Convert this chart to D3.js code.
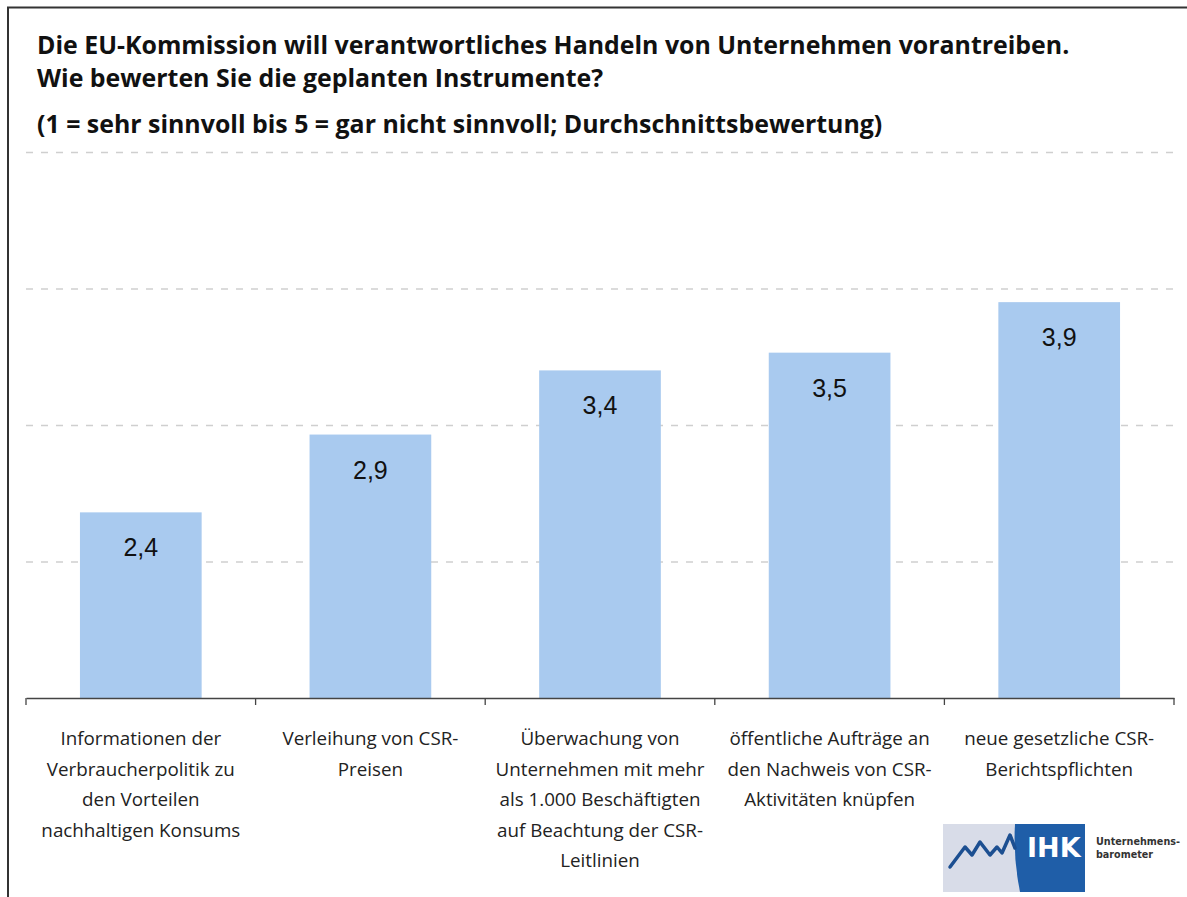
<!DOCTYPE html>
<html>
<head>
<meta charset="utf-8">
<script src="https://cdn.jsdelivr.net/npm/d3@7"></script>
<style>
  body { margin: 0; background: #fff; }
  svg { display: block; }
  .title { font-family: "Open Sans", sans-serif; font-weight: bold; font-size: 24.9px; fill: #111; }
  .cat { font-family: "Open Sans", sans-serif; font-size: 18.8px; fill: #222; }
  .val { font-family: "Liberation Sans", Arial, sans-serif; font-size: 25px; fill: #111; }
</style>
</head>
<body>
<div id="chart"></div>
<script>
const width = 1187
const height = 897

// Daten
const titleLines = [
  "Die EU-Kommission will verantwortliches Handeln von Unternehmen vorantreiben.",
  "Wie bewerten Sie die geplanten Instrumente?",
  "(1 = sehr sinnvoll bis 5 = gar nicht sinnvoll; Durchschnittsbewertung)"
]
const categories = [
  "Informationen der\nVerbraucherpolitik zu\nden Vorteilen\nnachhaltigen Konsums",
  "Verleihung von CSR-\nPreisen",
  "Überwachung von\nUnternehmen mit mehr\nals 1.000 Beschäftigten\nauf Beachtung der CSR-\nLeitlinien",
  "öffentliche Aufträge an\nden Nachweis von CSR-\nAktivitäten knüpfen",
  "neue gesetzliche CSR-\nBerichtspflichten"
]
const values = [2.36, 2.93, 3.40, 3.53, 3.90]
const yTicks = [1, 2, 3, 4, 5]

const svg = d3.select("div#chart")
  .append("svg")
  .attr("width", width)
  .attr("height", height)

// Rahmen (oben + links)
svg.append("path")
  .attr("d", `M8,${height} V7.5 H${width}`)
  .attr("fill", "none")
  .attr("stroke", "#333")
  .attr("stroke-width", 2)

// Titel
svg.append("g").selectAll("text").data(titleLines)
  .join("text")
  .attr("class", "title")
  .attr("x", 37)
  .attr("y", (d, i) => [54, 87, 133][i])
  .text(d => d)

// Skalen
const x = d3.scaleBand()
  .domain(categories)
  .range([26, 1174])
  .paddingInner(0.47)
  .paddingOuter(0.235)

const y = d3.scaleLinear()
  .domain([1, 5])
  .range([698, 152])

// Gitterlinien
const gridGroup = svg.append("g")
  .attr("transform", `translate(26, 0)`)
  .call(d3.axisLeft(y).tickValues(yTicks.slice(1)).tickSize(-(1174 - 26)).tickFormat(""))
gridGroup.select(".domain").remove()
gridGroup.selectAll(".tick line")
  .attr("stroke", "#cfcfcf")
  .attr("stroke-width", 1.3)
  .attr("stroke-dasharray", "7,8")

// Balken
svg.append("g").selectAll("rect").data(values)
  .join("rect")
  .attr("x", (d, i) => x(categories[i]))
  .attr("y", d => y(d))
  .attr("width", x.bandwidth())
  .attr("height", d => y(1) - y(d))
  .attr("fill", "#a9caef")

// Werte
svg.append("g").selectAll("text").data(values)
  .join("text")
  .attr("class", "val")
  .attr("x", (d, i) => x(categories[i]) + x.bandwidth() / 2)
  .attr("y", d => y(d) + 44)
  .attr("text-anchor", "middle")
  .text(d => d.toFixed(1).replace(".", ","))

// X-Achse
const xAxisGroup = svg.append("g")
  .attr("transform", `translate(0, ${y(1)})`)
  .call(d3.axisBottom(x).tickSize(0).tickFormat(""))
xAxisGroup.select(".domain").attr("stroke", "#444").attr("stroke-width", 1.5)
xAxisGroup.selectAll(".tick").remove()

const boundaries = d3.range(categories.length + 1).map(i => x.range()[0] + i * x.step())
xAxisGroup.selectAll("line.sep").data(boundaries)
  .join("line")
  .attr("class", "sep")
  .attr("x1", d => d).attr("x2", d => d)
  .attr("y1", 0).attr("y2", 7)
  .attr("stroke", "#444")
  .attr("stroke-width", 1.3)

// Kategorien
const catGroups = svg.append("g").selectAll("text").data(categories)
  .join("text")
  .attr("class", "cat")
  .attr("text-anchor", "middle")
  .attr("x", d => x(d) + x.bandwidth() / 2)
  .attr("y", 745)
catGroups.selectAll("tspan").data(d => d.split("\n"))
  .join("tspan")
  .attr("x", function () { return d3.select(this.parentNode).attr("x") })
  .attr("dy", (d, i) => i === 0 ? 0 : 30.5)
  .text(d => d)

// Logo
const logo = svg.append("g").attr("transform", "translate(943, 824)")
logo.append("rect").attr("width", 142).attr("height", 68).attr("fill", "#d8dce8")
logo.append("path")
  .attr("d", "M72,0 H142 V68 H77 Q70,34 72,0 Z")
  .attr("fill", "#1f5ea8")
logo.append("polyline")
  .attr("points", "7,43 22,23 29,31 37,18 47,31 54,23 59,29 67,11 72,24")
  .attr("fill", "none")
  .attr("stroke", "#1c4f91")
  .attr("stroke-width", 3.5)
  .attr("stroke-linejoin", "round")
  .attr("stroke-linecap", "round")
logo.append("text")
  .attr("x", 84).attr("y", 33)
  .attr("font-family", "'DejaVu Sans', sans-serif")
  .attr("font-weight", "bold")
  .attr("font-size", 27)
  .attr("fill", "#fff")
  .text("IHK")
logo.append("text")
  .attr("x", 153).attr("y", 21)
  .attr("font-family", "'DejaVu Sans Condensed', sans-serif")
  .attr("font-weight", "bold")
  .attr("font-size", 11)
  .attr("textLength", 84)
  .attr("lengthAdjust", "spacingAndGlyphs")
  .attr("fill", "#333")
  .text("Unternehmens-")
logo.append("text")
  .attr("x", 153).attr("y", 34)
  .attr("font-family", "'DejaVu Sans Condensed', sans-serif")
  .attr("font-weight", "bold")
  .attr("font-size", 11)
  .attr("textLength", 57)
  .attr("lengthAdjust", "spacingAndGlyphs")
  .attr("fill", "#333")
  .text("barometer")
</script>
</body>
</html>
